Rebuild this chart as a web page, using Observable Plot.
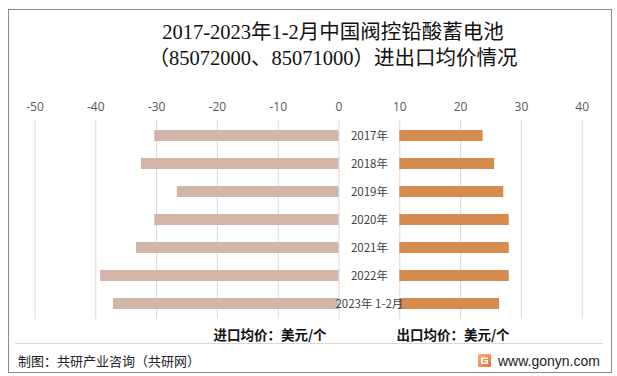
<!DOCTYPE html>
<html><head><meta charset="utf-8">
<script src="https://cdn.jsdelivr.net/npm/d3@7"></script>
<script src="https://cdn.jsdelivr.net/npm/@observablehq/plot@0.6"></script>
<style>
body{margin:0;background:#fff;}
#wrap{position:relative;width:617px;height:376px;overflow:hidden;font-family:"Noto Sans CJK SC","Noto Sans",sans-serif;background:#fff;}
#frame{position:absolute;left:8px;top:9px;width:604px;height:364px;border:1px solid #8a8a8a;box-sizing:border-box;}
#title{position:absolute;left:0;top:19px;width:666px;text-align:center;font-family:"Liberation Serif","Noto Sans CJK SC",serif;font-size:20.5px;line-height:26px;color:#111;}
#chart{position:absolute;left:0;top:0;}
.leg{position:absolute;top:325px;font-size:13.5px;line-height:18px;font-weight:bold;color:#111;white-space:nowrap;transform:translateX(-50%);}
#sep{position:absolute;left:15px;top:343px;width:588px;height:1px;background:#d9d9d9;}
#src{position:absolute;left:18px;top:352px;font-size:13px;line-height:18px;color:#222;}
#site{position:absolute;left:498px;top:352px;font-family:"Liberation Sans",Arial,sans-serif;font-size:14px;line-height:18px;color:#222;}
#logo{position:absolute;left:478px;top:354px;}
</style>
</head><body>
<div id="wrap">
  <div id="frame"></div>
  <div id="title">2017-2023年1-2月中国阀控铅酸蓄电池<br>（85072000、85071000）进出口均价情况</div>
  <div id="chart"></div>
  <div class="leg" style="left:270px">进口均价：美元/个</div>
  <div class="leg" style="left:453px">出口均价：美元/个</div>
  <div id="sep"></div>
  <div id="src">制图：共研产业咨询（共研网）</div>
  <svg id="logo" width="13" height="13" viewBox="0 0 13 13">
    <defs><linearGradient id="lg" x1="0" y1="0" x2="1" y2="1"><stop offset="0" stop-color="#f9b27a"/><stop offset="1" stop-color="#ef6a3a"/></linearGradient></defs>
    <rect width="13" height="13" rx="1.5" fill="url(#lg)"/>
    <path d="M3 3.5h7v1.6H4.7v3.4h3.6V7.3H6.6V5.9h3.4v4.2H3z" fill="#fff"/>
  </svg>
  <div id="site">www.gonyn.com</div>
</div>
<script>
const years = ["2017年","2018年","2019年","2020年","2021年","2022年","2023年 1-2月"];
const importPrice = [30.3, 32.5, 26.6, 30.3, 33.3, 39.2, 37.1];
const exportPrice = [13.7, 15.6, 17.1, 18.0, 18.0, 18.0, 16.4];
const xTicks = [-50, -40, -30, -20, -10, 0, 10, 20, 30, 40];
const GAP = 10; // offset of the export bars (room for category labels)

const rows = years.map((y, i) => ({year: y, imp: importPrice[i], exp: exportPrice[i]}));

const chart = Plot.plot({
  width: 617,
  height: 330,
  marginTop: 120,
  marginBottom: 11,
  marginLeft: 34.5,
  marginRight: 35.3,
  style: {fontFamily: "'Noto Sans CJK SC', sans-serif", background: "transparent"},
  x: {domain: [-50, 40]},
  y: {domain: years, paddingInner: 0.62, paddingOuter: 0.3, axis: null},
  marks: [
    Plot.gridX(xTicks, {stroke: "#d9d9d9", strokeOpacity: 1, strokeWidth: 1}),
    Plot.axisX(xTicks, {anchor: "top", tickSize: 0, tickPadding: 10, tickFormat: d => String(d), fontSize: 12, fill: "#595959", fontFamily: "'Open Sans', sans-serif"}),
    Plot.barX(rows, {x1: 0, x2: d => -d.imp, y: "year", fill: "#d1b5a9"}),
    Plot.barX(rows, {x1: GAP, x2: d => GAP + d.exp, y: "year", fill: "#d58c4e"}),
    Plot.text(rows, {x: GAP / 2, y: "year", text: "year", fontSize: 11.5, fill: "#404040"})
  ]
});
document.getElementById("chart").appendChild(chart);
</script>
</body></html>
